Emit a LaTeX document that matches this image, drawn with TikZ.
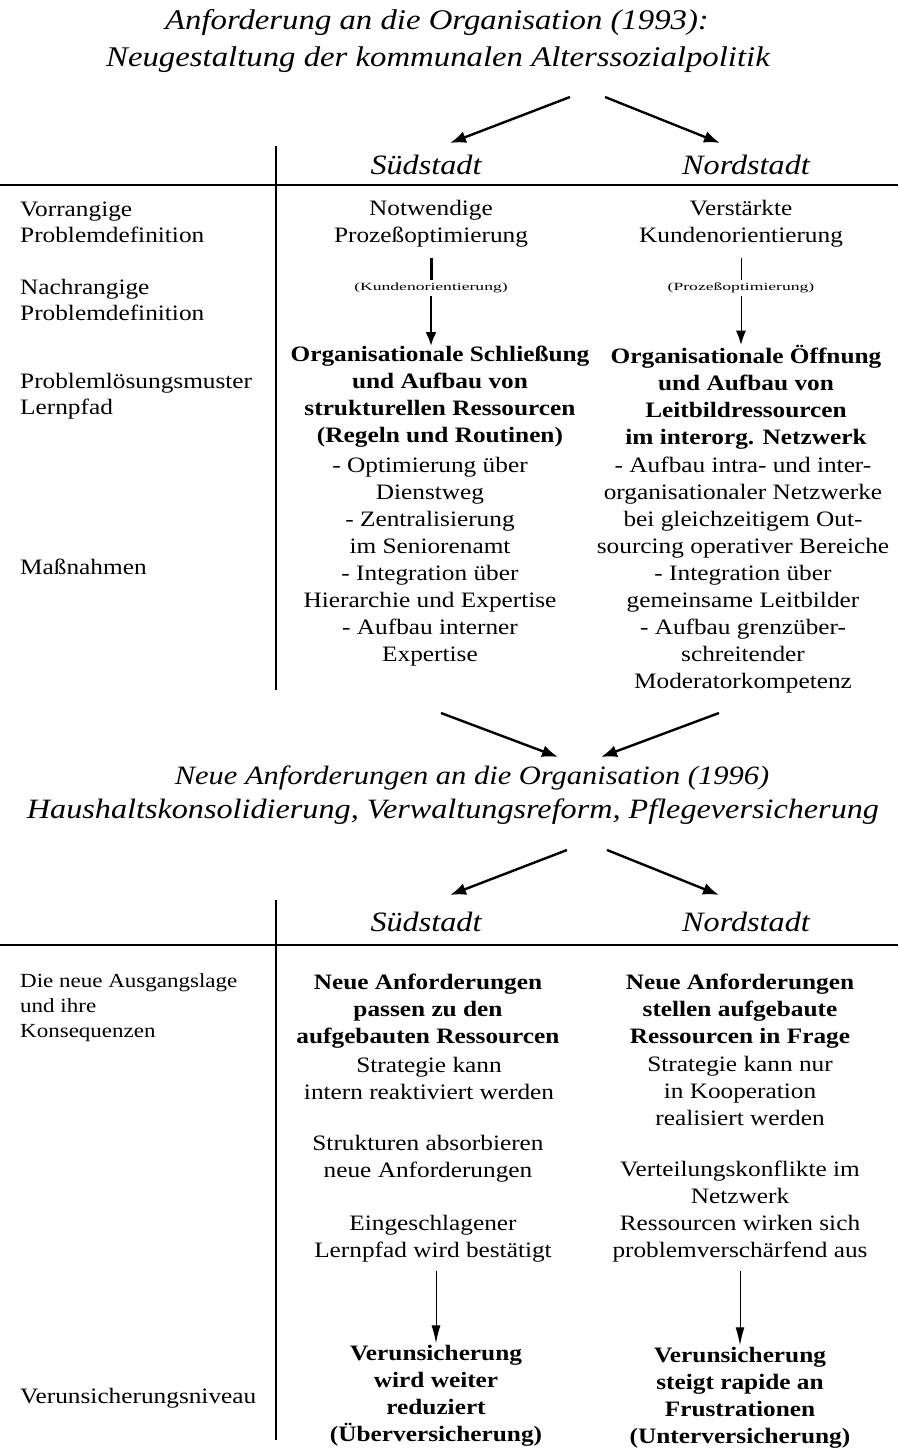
\documentclass[tikz,border=0pt]{standalone}
\usepackage{fontspec}
\setmainfont{Liberation Serif}[FakeStretch=1.15]
\newfontfamily\widesmall{Liberation Serif}[FakeStretch=1.6]
\usetikzlibrary{arrows.meta}
\begin{document}
\begin{tikzpicture}[x=1pt,y=-1pt,
  txt/.style={inner sep=0pt,align=center,font=\fontsize{22}{27}\selectfont},
  txtb/.style={txt,font=\fontsize{22}{27}\selectfont\bfseries},
  lab/.style={inner sep=0pt,anchor=west,align=left,font=\fontsize{22}{26}\selectfont},
  tiny/.style={inner sep=0pt,font=\widesmall\fontsize{11}{12}\selectfont},
  ttl/.style={inner sep=0pt,font=\fontsize{28.5}{34}\selectfont\itshape},
  colhead/.style={inner sep=0pt,font=\fontsize{28}{32}\selectfont\itshape},
  rule/.style={line width=1.8pt},
  sep/.style={line width=1.3pt},
  bigarrow/.style={line width=2.4pt,-{Latex[length=16pt,width=12pt]}},
  midarrow/.style={line width=2.6pt,-{Latex[length=14pt,width=11pt]}},
  slimarrow/.style={line width=1pt,-{Latex[length=14pt,width=10pt]}},
  thinarrow/.style={line width=1pt,-{Latex[length=18pt,width=9pt]}}]
\useasboundingbox (0,0) rectangle (898,1448);

% ---------- first stage: 1993 ----------
\node[ttl] (t1a) at (437,22) {Anforderung an die Organisation (1993):};
\node[ttl] (t1b) at (438,60) {Neugestaltung der kommunalen Alterssozialpolitik};

\coordinate (s1from) at (570,97);  \coordinate (s1to) at (450,143);
\coordinate (n1from) at (605,97);  \coordinate (n1to) at (720,143);
\draw[bigarrow] (s1from) -- (s1to);
\draw[bigarrow] (n1from) -- (n1to);

\node[colhead] (sued1) at (426,165) {Südstadt};
\node[colhead] (nord1) at (746,165) {Nordstadt};

\draw[rule] (0,185) -- (898,185);
\draw[sep] (276,146) -- (276,690);

% row labels
\node[lab] (l1) at (20,222) {Vorrangige\\Problemdefinition};
\node[lab] (l2) at (20,300) {Nachrangige\\Problemdefinition};
\node[lab] (l3) at (20,396) {Problemlösungsmuster\\Lernpfad};
\node[lab] (l4) at (20,567) {Maßnahmen};

% Südstadt column
\node[txt] (sp1) at (431,224) {Notwendige\\Prozeßoptimierung};
\node[tiny] (sp2) at (431,288) {(Kundenorientierung)};
\node[txtb] (sp3) at (440,397) {Organisationale Schließung\\und Aufbau von\\strukturellen Ressourcen\\(Regeln und Routinen)};
\node[txt] (sp4) at (430,562) {- Optimierung über\\Dienstweg\\- Zentralisierung\\im Seniorenamt\\- Integration über\\Hierarchie und Expertise\\- Aufbau interner\\Expertise};
\draw[line width=3pt,shorten <=10pt,shorten >=3pt] (sp1.south) -- (sp2.north);
\draw[midarrow,shorten <=3pt] (sp2.south) -- (sp2.south |- sp3.north);

% Nordstadt column
\node[txt] (np1) at (741,224) {Verstärkte\\Kundenorientierung};
\node[tiny] (np2) at (741,288) {(Prozeßoptimierung)};
\node[txtb] (np3) at (746,397) {Organisationale Öffnung\\und Aufbau von\\Leitbildressourcen\\im interorg. Netzwerk};
\node[txt] (np4) at (743,575) {- Aufbau intra- und inter-\\organisationaler Netzwerke\\bei gleichzeitigem Out-\\sourcing operativer Bereiche\\- Integration über\\gemeinsame Leitbilder\\- Aufbau grenzüber-\\schreitender\\Moderatorkompetenz};
\draw[line width=1pt,shorten <=10pt,shorten >=3pt] (np1.south) -- (np2.north);
\draw[slimarrow,shorten <=3pt] (np2.south) -- (np2.south |- np3.north);

% ---------- second stage: 1996 ----------
\coordinate (s2from) at (441,713); \coordinate (s2to) at (558,757);
\coordinate (n2from) at (719,713); \coordinate (n2to) at (601,757);
\draw[bigarrow] (s2from) -- (s2to);
\draw[bigarrow] (n2from) -- (n2to);

\node[ttl,font=\fontsize{26.5}{32}\selectfont\itshape] (t2a) at (472,778) {Neue Anforderungen an die Organisation (1996)};
\node[ttl,font=\fontsize{28}{32}\selectfont\itshape] (t2b) at (453,812) {Haushaltskonsolidierung, Verwaltungsreform, Pflegeversicherung};

\coordinate (s3from) at (567,850); \coordinate (s3to) at (450,895);
\coordinate (n3from) at (607,850); \coordinate (n3to) at (719,895);
\draw[bigarrow] (s3from) -- (s3to);
\draw[bigarrow] (n3from) -- (n3to);

\node[colhead] (sued2) at (426,922) {Südstadt};
\node[colhead] (nord2) at (746,922) {Nordstadt};

\draw[rule] (0,945) -- (898,945);
\draw[sep] (276,900) -- (276,1440);

\node[lab,font=\fontsize{20}{25}\selectfont] (l5) at (20,1008) {Die neue Ausgangslage\\und ihre\\Konsequenzen};
\node[lab] (l6) at (20,1398) {Verunsicherungsniveau};

% Südstadt column
\node[txtb] (sa1) at (428,1011) {Neue Anforderungen\\passen zu den\\aufgebauten Ressourcen};
\node[txt] (sa2) at (429,1078) {Strategie kann\\intern reaktiviert werden};
\node[txt] (sa3) at (428,1159) {Strukturen absorbieren\\neue Anforderungen};
\node[txt] (sa4) at (433,1239) {Eingeschlagener\\Lernpfad wird bestätigt};
\node[txtb] (sa5) at (436,1396) {Verunsicherung\\wird weiter\\reduziert\\(Überversicherung)};
\draw[thinarrow,shorten <=8pt,shorten >=2pt] (sa4.south -| sa5.north) -- (sa5.north);

% Nordstadt column
\node[txtb] (na1) at (740,1011) {Neue Anforderungen\\stellen aufgebaute\\Ressourcen in Frage};
\node[txt] (na2) at (740,1091) {Strategie kann nur\\in Kooperation\\realisiert werden};
\node[txt] (na3) at (740,1212) {Verteilungskonflikte im\\Netzwerk\\Ressourcen wirken sich\\problemverschärfend aus};
\node[txtb] (na5) at (740,1398) {Verunsicherung\\steigt rapide an\\Frustrationen\\(Unterversicherung)};
\draw[thinarrow,shorten <=8pt,shorten >=2pt] (na3.south -| na5.north) -- (na5.north);
\end{tikzpicture}
\end{document}
